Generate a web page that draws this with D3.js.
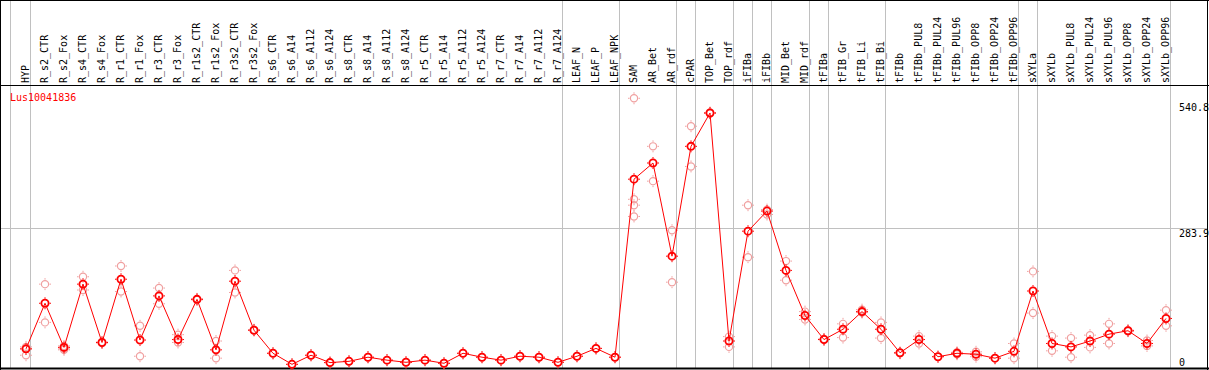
<!DOCTYPE html>
<html><head><meta charset="utf-8">
<script src="https://cdn.jsdelivr.net/npm/d3@7/dist/d3.min.js"></script>
<style>
html,body{margin:0;padding:0;background:#fff;}
svg{display:block;}
text{font-family:"DejaVu Sans Mono",monospace;font-size:10px;}
</style></head><body>
<svg id="c" width="1209" height="370"></svg>
<script>
const categories = ["HYP","R_s2_CTR","R_s2_Fox","R_s4_CTR","R_s4_Fox","R_r1_CTR","R_r1_Fox","R_r3_CTR","R_r3_Fox","R_r1s2_CTR","R_r1s2_Fox","R_r3s2_CTR","R_r3s2_Fox","R_s6_CTR","R_s6_A14","R_s6_A112","R_s6_A124","R_s8_CTR","R_s8_A14","R_s8_A112","R_s8_A124","R_r5_CTR","R_r5_A14","R_r5_A112","R_r5_A124","R_r7_CTR","R_r7_A14","R_r7_A112","R_r7_A124","LEAF_N","LEAF_P","LEAF_NPK","SAM","AR_Bet","AR_rdf","cPAR","TOP_Bet","TOP_rdf","iFIBa","iFIBb","MID_Bet","MID_rdf","tFIBa","tFIB_Gr","tFIB_Li","tFIB_Bi","tFIBb","tFIBb_PUL8","tFIBb_PUL24","tFIBb_PUL96","tFIBb_OPP8","tFIBb_OPP24","tFIBb_OPP96","sXYLa","sXYLb","sXYLb_PUL8","sXYLb_PUL24","sXYLb_PUL96","sXYLb_OPP8","sXYLb_OPP24","sXYLb_OPP96"];
const meanValues = [38,131,41,170,51,180,56,146,57,139,36,176,76,29,6.5,25,10,12.6,21,15,10.6,15,8.6,29,21,15,23,21,10.6,23,39,21,384,417,227,451,519,54,278,319,198,106,57,78,114,78,30,57,22,29,27,19,33,156,49,42,54,68,75,49,100];
const replicates = [[42,25,38],[170,92],[44,36,38],[185,158],[52,50],[207,155],[85,23],[162,130],[67,51],[140,138],[54,19],[198,153],[77,76],[29],[6.5],[25],[10],[12.6],[21],[15],[10.6],[15],[8.6],[29],[21],[15],[23],[21],[10.6],[23],[39],[21],[549,343,331,308],[451,380],[280,174],[492,410],[520,518],[63,42],[331,225],[312,322],[217,178],[114,98],[57,58],[89,61],[118,112],[92,60],[30,29],[64,49],[22],[31,27],[32,22],[19],[49,19],[196,111],[64,34],[60,21],[66,41],[89,49],[76,74],[55,44],[117,85]];
const groupEnds = ["HYP","R_r7_A124","LEAF_NPK","AR_rdf","cPAR","TOP_rdf","iFIBa","iFIBb","MID_rdf","tFIBa","tFIB_Bi","tFIBb_OPP96","sXYLa","sXYLb_OPP96"];
const yTicks = [540.8, 283.9, 0];
const geneName = "Lus10041836";

const svg = d3.select("#c");
const x = d3.scaleBand().domain(categories).range([16.5, 16.5 + 19*categories.length]);
const cx = c => x(c) + x.bandwidth()/2;
const y = d3.scaleLinear().domain([0, 540.8]).range([367.5, 102.3]);

const grey = "#c0c0c0";
// vertical group separators
svg.append("line").attr("x1",10.5).attr("x2",10.5).attr("y1",0).attr("y2",368).attr("stroke",grey);
svg.selectAll("line.sep").data(groupEnds).join("line").attr("class","sep")
  .attr("x1",d=>Math.round(cx(d)+4)+0.5).attr("x2",d=>Math.round(cx(d)+4)+0.5)
  .attr("y1",0).attr("y2",368).attr("stroke",grey);
// horizontal grid for middle tick
svg.selectAll("line.hg").data(yTicks.filter(v=>v>0 && v<540)).join("line").attr("class","hg")
  .attr("x1",0).attr("x2",1208).attr("y1",d=>Math.round(y(d))+0.5).attr("y2",d=>Math.round(y(d))+0.5).attr("stroke",grey);

// frame
const blk="#000";
svg.append("line").attr("x1",0).attr("x2",1209).attr("y1",0.5).attr("y2",0.5).attr("stroke",blk);
svg.append("line").attr("x1",0).attr("x2",1209).attr("y1",85.5).attr("y2",85.5).attr("stroke",blk);
svg.append("line").attr("x1",0).attr("x2",1209).attr("y1",368.5).attr("y2",368.5).attr("stroke",blk).attr("stroke-width",2);
svg.append("line").attr("x1",0.5).attr("x2",0.5).attr("y1",0).attr("y2",370).attr("stroke",blk);
svg.append("line").attr("x1",1207.5).attr("x2",1207.5).attr("y1",0).attr("y2",370).attr("stroke",blk);

// column labels
svg.selectAll("text.cat").data(categories).join("text").attr("class","cat")
  .attr("transform",d=>`translate(${cx(d)+3},83) rotate(-90)`)
  .attr("text-anchor","start").attr("fill","#000").text(d=>d);

// y tick labels
svg.selectAll("text.yt").data(yTicks).join("text").attr("class","yt")
  .attr("x",1179).attr("y",d=>Math.min(y(d)+8.5,366)).attr("fill","#000").text(d=>d);

// gene name
svg.append("text").attr("x",10).attr("y",100.5).attr("fill","#ff0000").text(geneName);

function marker(g, color, sw){
  g.append("circle").attr("r",3.6).attr("fill","none").attr("stroke",color).attr("stroke-width",sw);
  [[0,-4.5,0,-6],[0,4.5,0,6],[-4.5,0,-6,0],[4.5,0,6,0]].forEach(p=>{
    g.append("line").attr("x1",p[0]).attr("y1",p[1]).attr("x2",p[2]).attr("y2",p[3]).attr("stroke",color).attr("stroke-width",1);
  });
}
// replicates
const repData = [];
categories.forEach((c,i)=>replicates[i].forEach(v=>repData.push({c,v})));
svg.selectAll("g.rep").data(repData).join("g").attr("class","rep")
  .attr("transform",d=>`translate(${cx(d.c)},${y(d.v)})`)
  .each(function(){ marker(d3.select(this),"#f0a0a0",1.2); });

// mean line
const line = d3.line().x((d,i)=>cx(categories[i])).y(d=>y(d));
svg.append("path").datum(meanValues).attr("d",line).attr("fill","none").attr("stroke","#ff0000").attr("stroke-width",1);

// mean markers
svg.selectAll("g.mean").data(meanValues).join("g").attr("class","mean")
  .attr("transform",(d,i)=>`translate(${cx(categories[i])},${y(d)})`)
  .each(function(){ marker(d3.select(this),"#ff0000",1.8); });
</script>
</body></html>
